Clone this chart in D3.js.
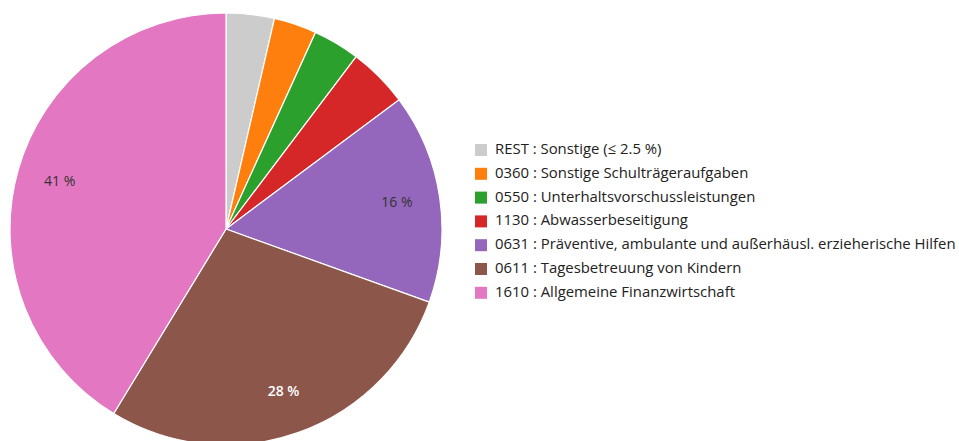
<!DOCTYPE html>
<html lang="de">
<head>
    <meta charset="UTF-8">
    <title>Pie</title>
    <style>
        body { margin: 0; background: #fff; }
        svg text { font-family: "Open Sans", "Noto Sans", sans-serif; }
        .arc path { stroke: #fff; stroke-width: 1.2px; }
        .lbl { font-size: 14px; text-anchor: middle; dominant-baseline: middle; }
        .legend text { font-size: 14.9px; fill: #222; dominant-baseline: middle; }
    </style>
</head>
<body>
<svg id="chart" width="959" height="441"></svg>
<script src="https://d3js.org/d3.v7.min.js"></script>
<script>
    // slice data, clockwise from 12 o'clock
    var categories = ["REST : Sonstige (≤ 2.5 %)",
        "0360 : Sonstige Schulträgeraufgaben",
        "0550 : Unterhaltsvorschussleistungen",
        "1130 : Abwasserbeseitigung",
        "0631 : Präventive, ambulante und außerhäusl. erzieherische Hilfen",
        "0611 : Tagesbetreuung von Kindern",
        "1610 : Allgemeine Finanzwirtschaft"]
    var shares = [3.6, 3.2, 3.5, 4.5, 15.7, 28.2, 41.3]
    var sliceLabels = ["", "", "", "", "16 %", "28 %", "41 %"]
    var colors = ["#cccccc", "#ff7f0e", "#2ca02c", "#d62728", "#9467bd", "#8c564b", "#e377c2"]

    var svg = d3.select("#chart"),
        cx = 226, cy = 229, radius = 216;

    var color = d3.scaleOrdinal().domain(categories).range(colors);

    var pie = d3.pie().sort(null).value(function(d) { return d.v; });
    var data = categories.map(function(c, i) { return { name: c, v: shares[i], label: sliceLabels[i] }; });

    var arcPath = d3.arc().outerRadius(radius).innerRadius(0);
    var labelArc = d3.arc().outerRadius(radius * 0.8).innerRadius(radius * 0.8);

    var g = svg.append("g").attr("transform", "translate(" + cx + "," + cy + ")");

    var arc = g.selectAll(".arc")
        .data(pie(data))
        .enter().append("g")
        .attr("class", "arc");

    arc.append("path")
        .attr("d", arcPath)
        .attr("fill", function(d) { return color(d.data.name); });

    arc.append("text")
        .attr("class", "lbl")
        .attr("transform", function(d) { return "translate(" + labelArc.centroid(d) + ")"; })
        .attr("fill", function(d) { return d.data.name.indexOf("0611") === 0 ? "#fff" : "#333"; })
        .style("font-weight", function(d) { return d.data.name.indexOf("0611") === 0 ? "600" : "normal"; })
        .text(function(d) { return d.data.label; });

    // legend
    var size = 12, step = 23.8, lx = 475, ly = 150;
    var legend = svg.append("g").attr("class", "legend");

    legend.selectAll("rect")
        .data(categories)
        .enter().append("rect")
        .attr("x", lx)
        .attr("y", function(d, i) { return ly + i * step - size / 2; })
        .attr("width", size)
        .attr("height", size)
        .style("fill", function(d) { return color(d); });

    legend.selectAll("text")
        .data(categories)
        .enter().append("text")
        .attr("x", lx + 20)
        .attr("y", function(d, i) { return ly + i * step; })
        .text(function(d) { return d; });
</script>
</body>
</html>
